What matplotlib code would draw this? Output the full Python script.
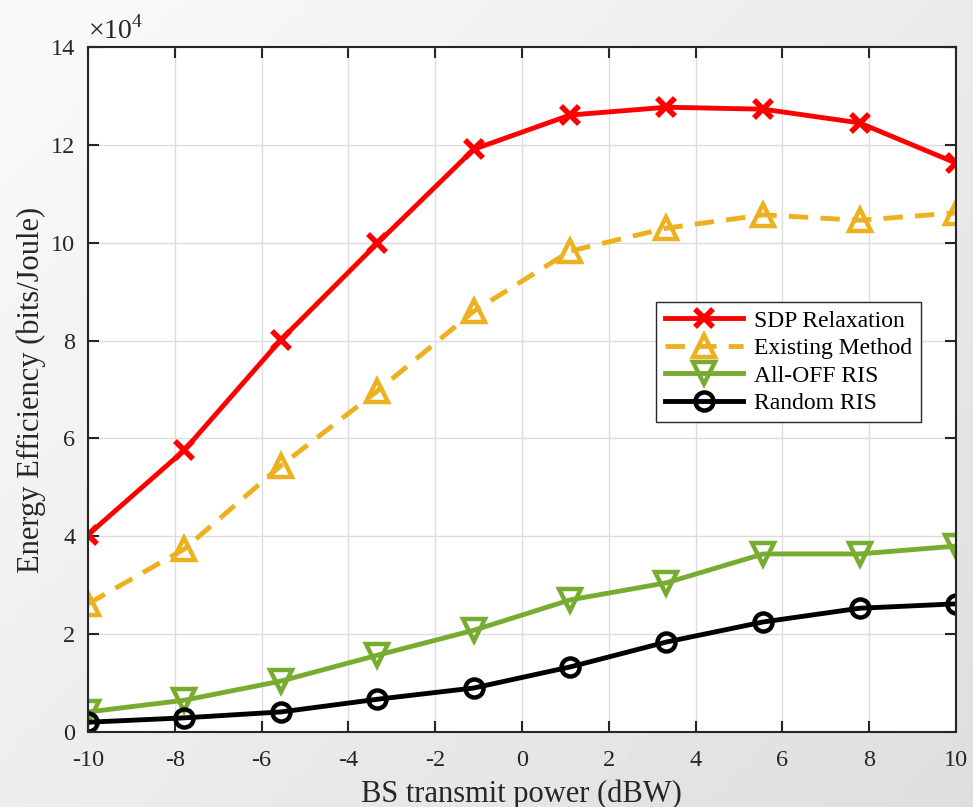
import numpy as np
import matplotlib.pyplot as plt
from matplotlib.ticker import FuncFormatter

plt.rcParams['font.family'] = ['Liberation Serif', 'DejaVu Serif']
plt.rcParams['mathtext.fontset'] = 'custom'
plt.rcParams['mathtext.rm'] = 'Liberation Serif'
plt.rcParams['axes.unicode_minus'] = False

# BS transmit power (dBW)
power = [-10, -7.78, -5.56, -3.33, -1.11, 1.11, 3.33, 5.56, 7.78, 10]
# energy efficiency (bits/Joule)
sdp = [40300, 57600, 80100, 99900, 119100, 126100, 127700, 127300, 124500, 116300]
existing = [26200, 37400, 54400, 69700, 86000, 98300, 103000, 105700, 104600, 106100]
all_off = [4100, 6500, 10400, 15700, 20800, 27000, 30500, 36400, 36400, 38000]
random_ris = [2000, 2900, 4100, 6700, 9000, 13300, 18400, 22500, 25300, 26200]

xticks = [-10, -8, -6, -4, -2, 0, 2, 4, 6, 8, 10]
yticks = [0, 20000, 40000, 60000, 80000, 100000, 120000, 140000]

fig = plt.figure(figsize=(9.73, 8.07), dpi=100)

# grey gradient background like the MATLAB export
bg = fig.add_axes([0, 0, 1, 1], zorder=-10)
gx, gy = np.meshgrid(np.linspace(0, 1, 200), np.linspace(0, 1, 200))
grad = 0.98 - 0.11 * (0.55 * gx + 0.45 * gy)
bg.imshow(grad, cmap='gray', vmin=0, vmax=1, aspect='auto', extent=[0, 1, 0, 1],
          origin='upper')
bg.axis('off')

ax = fig.add_axes([0.0904, 0.0929, 0.892, 0.8488])
ax.set_facecolor('white')

lw = 3.5
ax.plot(power, sdp, color='#FF0000', lw=lw, marker='x', ms=13, mew=4,
        label='SDP Relaxation')
ax.plot(power, existing, color='#EDB120', lw=lw, ls=(0, (4, 2.5)), marker='^', ms=16,
        mew=3.2, mfc='none', label='Existing Method')
ax.plot(power, all_off, color='#77AC30', lw=lw, marker='v', ms=16, mew=3.2, mfc='none',
        label='All-OFF RIS')
ax.plot(power, random_ris, color='black', lw=lw, marker='o', ms=13, mew=3.2, mfc='none',
        label='Random RIS')

ax.set_xlim(-10, 10)
ax.set_ylim(0, 140000)
ax.set_xticks(xticks)
ax.set_yticks(yticks)
ax.yaxis.set_major_formatter(FuncFormatter(lambda v, p: f'{v / 1e4:.0f}'))
ax.tick_params(direction='in', length=8, width=1.5, top=True, right=True,
               labelsize=17.5, colors='#262626', pad=9)
ax.tick_params(axis='x', pad=13)
for s in ax.spines.values():
    s.set_linewidth(1.5)
    s.set_color('#262626')
ax.grid(True, color='#dcdcdc', lw=1)
ax.set_axisbelow(True)

ax.text(0.0, 1.003, r'$\times10^4$', transform=ax.transAxes, fontsize=20,
        color='#262626', ha='left', va='bottom')
ax.set_xlabel('BS transmit power (dBW)', fontsize=22, color='#262626', labelpad=6)
ax.set_ylabel('Energy Efficiency (bits/Joule)', fontsize=22, color='#262626', labelpad=4)

leg = ax.legend(loc='upper left', bbox_to_anchor=(0.655, 0.628), fontsize=17,
                frameon=True, fancybox=False, edgecolor='#262626', framealpha=1,
                handlelength=3.3, borderpad=0.35, labelspacing=0.25, handletextpad=0.5,
                borderaxespad=0)
leg.get_frame().set_linewidth(1.0)

fig.savefig('out.png', dpi=100)
